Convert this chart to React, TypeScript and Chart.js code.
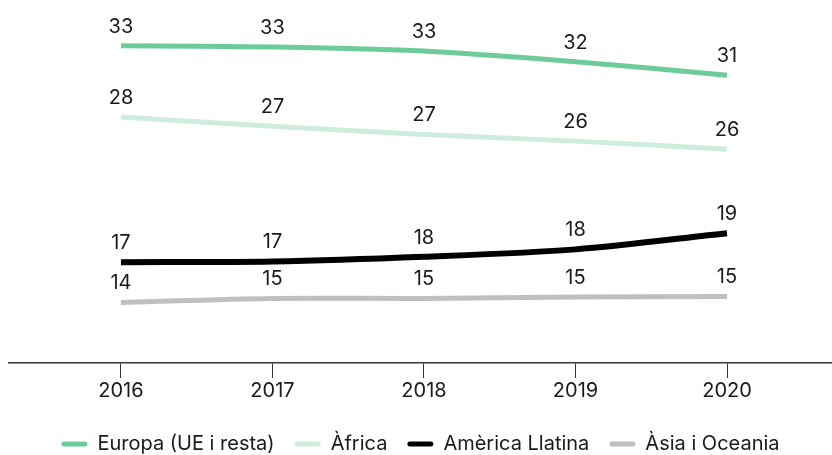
import React, { useEffect, useRef } from "react";
import { Chart, registerables } from "chart.js";

Chart.register(...registerables);

const years = [2016, 2017, 2018, 2019, 2020];
const europa = [33.3, 33.2, 32.9, 32.1, 31.1];
const africa = [28.0, 27.3, 26.7, 26.2, 25.6];
const america = [17.2, 17.25, 17.6, 18.15, 19.35];
const asia = [14.2, 14.5, 14.5, 14.6, 14.65];
const seriesNames = ["Europa (UE i resta)", "Àfrica", "Amèrica Llatina", "Àsia i Oceania"];
const seriesColors = ["#6dcb9a", "#cdeedc", "#000000", "#bfbfbf"];

const FONT = "Inter, Roboto, sans-serif";

const valueLabels = {
  id: "valueLabels",
  afterDatasetsDraw(chart: any) {
    const ctx = chart.ctx;
    ctx.save();
    ctx.font = `20px ${FONT}`;
    ctx.fillStyle = "#1a1a1a";
    ctx.textAlign = "center";
    ctx.textBaseline = "alphabetic";
    chart.data.datasets.forEach((ds: any, i: number) => {
      const meta = chart.getDatasetMeta(i);
      meta.data.forEach((pt: any, j: number) => {
        const v = ds.data[j].y;
        ctx.fillText(String(Math.round(v)), pt.x, pt.y - 13);
      });
    });
    ctx.restore();
  },
};

export default function App() {
  const ref = useRef<HTMLCanvasElement>(null);
  useEffect(() => {
    if (!ref.current) return;
    const all = [europa, africa, america, asia];
    const chart = new Chart(ref.current, {
      type: "line",
      data: {
        datasets: all.map((arr, i) => ({
          label: seriesNames[i],
          data: arr.map((v, j) => ({ x: years[j], y: v })),
          borderColor: seriesColors[i],
          backgroundColor: seriesColors[i],
          borderWidth: i === 2 ? 6 : 5,
          pointRadius: 0,
          tension: 0.3,
          borderCapStyle: "butt",
        })),
      },
      options: {
        animation: false,
        responsive: false,
        maintainAspectRatio: false,
        layout: { padding: { left: 9, right: 0, top: 8, bottom: -9 } },
        scales: {
          x: {
            type: "linear",
            min: 2015.261,
            max: 2020.693,
            afterBuildTicks: (axis: any) => {
              axis.ticks = years.map((v) => ({ value: v }));
            },
            afterFit: (axis: any) => {
              axis.height += 10;
            },
            border: { display: true, color: "#333", width: 1.5 },
            grid: { drawOnChartArea: false, drawTicks: true, tickLength: 15, color: "#333", lineWidth: 1 },
            ticks: {
              font: { family: FONT, size: 20 },
              color: "#1a1a1a",
              padding: 1,
              callback: (v: any) => String(v),
            },
          },
          y: {
            display: false,
            min: 9.7,
            max: 36.1,
          },
        },
        plugins: {
          legend: {
            display: true,
            position: "bottom",
            labels: {
              boxWidth: 26,
              boxHeight: 5,
              useBorderRadius: true,
              borderRadius: 2.5,
              font: { family: FONT, size: 20 },
              color: "#1a1a1a",
              padding: 20,
              generateLabels: (chart: any) =>
                Chart.defaults.plugins.legend.labels
                  .generateLabels(chart)
                  .map((l: any) => ({ ...l, lineWidth: 0, strokeStyle: "rgba(0,0,0,0)" })),
            },
          },
          tooltip: { enabled: false },
        },
      },
      plugins: [valueLabels],
    });
    return () => chart.destroy();
  }, []);
  return (
    <div style={{ position: "fixed", left: 0, top: 0, width: 832, height: 455 }}>
      <canvas ref={ref} width={832} height={455} style={{ display: "block" }} />
    </div>
  );
}
